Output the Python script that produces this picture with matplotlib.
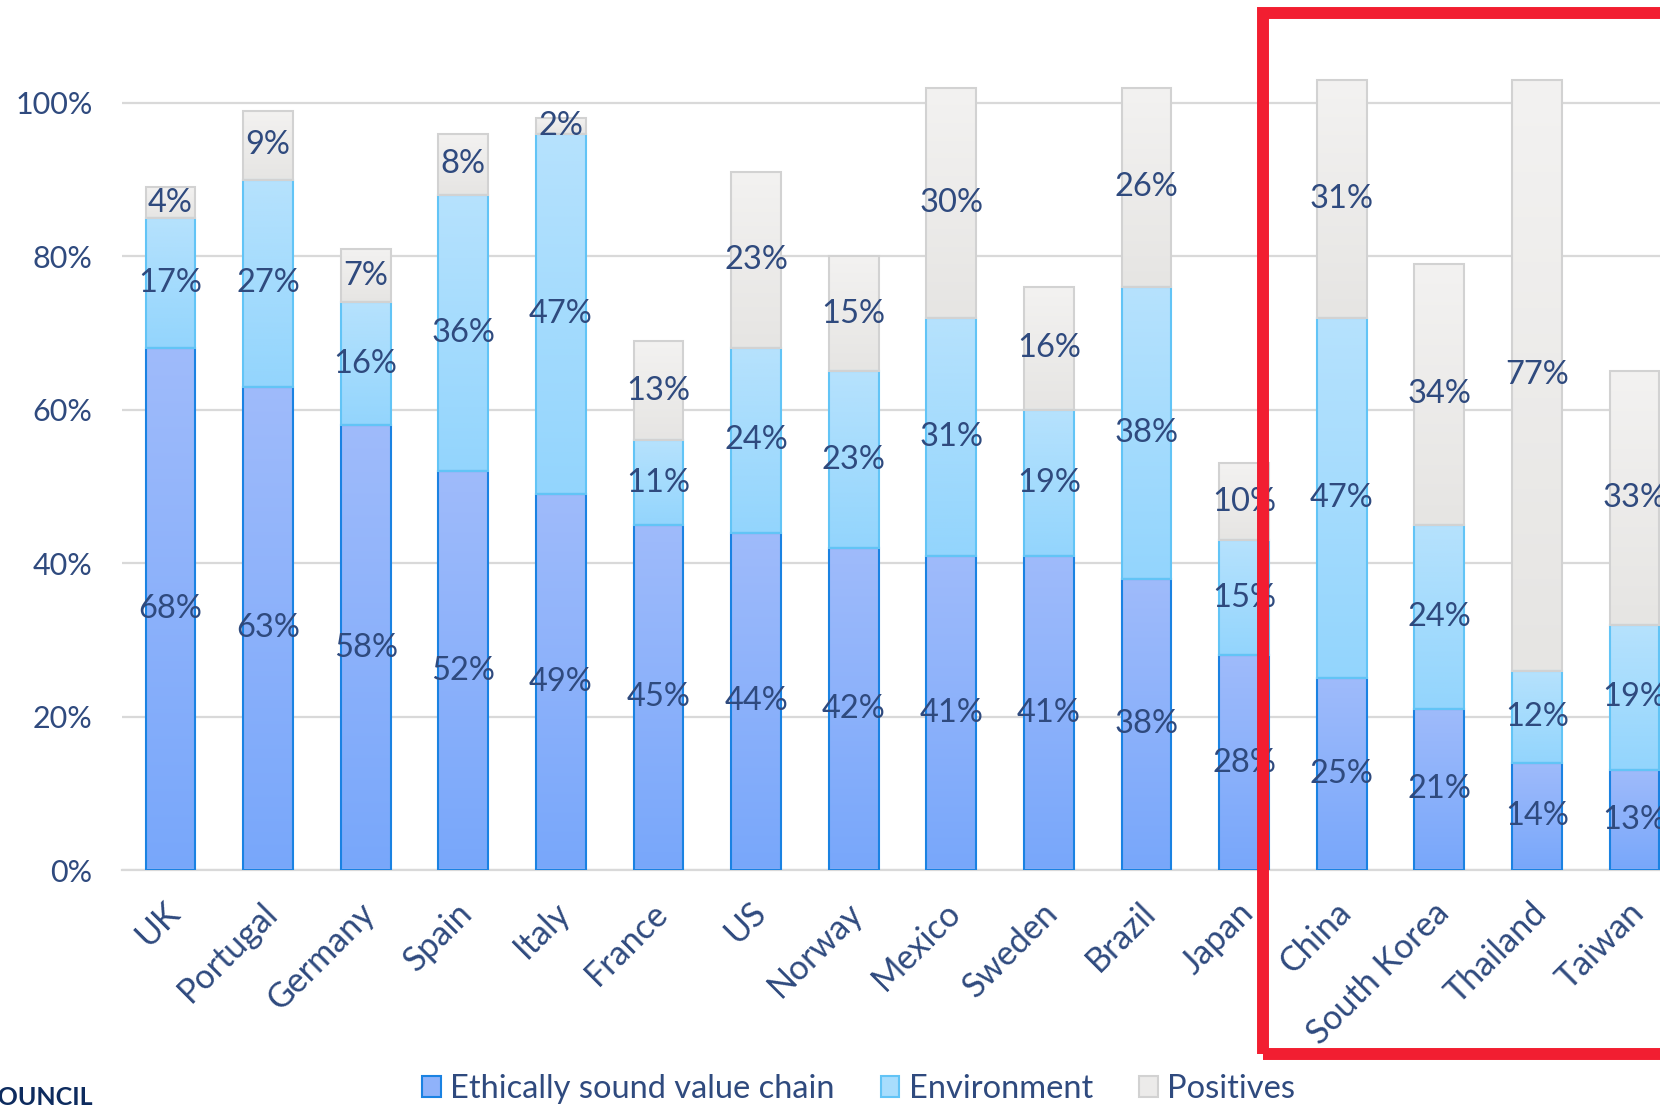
import numpy as np
import matplotlib
matplotlib.use("Agg")
import matplotlib.pyplot as plt
from matplotlib.colors import LinearSegmentedColormap
from matplotlib.patches import Patch, Rectangle
from matplotlib.transforms import ScaledTranslation

countries = ["UK", "Portugal", "Germany", "Spain", "Italy", "France", "US", "Norway",
             "Mexico", "Sweden", "Brazil", "Japan", "China", "South Korea", "Thailand", "Taiwan"]
ethical = [68, 63, 58, 52, 49, 45, 44, 42, 41, 41, 38, 28, 25, 21, 14, 13]
environment = [17, 27, 16, 36, 47, 11, 24, 23, 31, 19, 38, 15, 47, 24, 12, 19]
positives = [4, 9, 7, 8, 2, 13, 23, 15, 30, 16, 26, 10, 31, 34, 77, 33]
series_names = ["Ethically sound value chain", "Environment", "Positives"]

TXT = "#2f4a7e"
plt.rcParams['font.family'] = ['Lato', 'DejaVu Sans']

# (bottom colour, top colour, edge colour) for each series
styles = [
    ("#78a7fa", "#9fbbfb", "#1a82e2"),
    ("#93d5fd", "#b6e2fd", "#62c4f6"),
    ("#e6e5e3", "#f3f2f1", "#d2d2d2"),
]

fig = plt.figure(figsize=(16.6, 11.06), dpi=100)
ax = fig.add_axes([121.7 / 1660, 236 / 1106, 1 - 121.7 / 1660, 1.12 * 767 / 1106])

x = np.arange(len(countries))
grad = np.linspace(0, 1, 256).reshape(-1, 1)
bottom = np.zeros(len(countries))
for vals, (c0, c1, ec) in zip([ethical, environment, positives], styles):
    v = np.array(vals) / 100
    bars = ax.bar(x, v, width=0.51, bottom=bottom, facecolor="none",
                  edgecolor=ec, linewidth=1.5, zorder=3)
    cmap = LinearSegmentedColormap.from_list("g", [c0, c1])
    for b in bars:
        bx, by = b.get_x(), b.get_y()
        im = ax.imshow(grad, cmap=cmap, origin="lower", aspect="auto", zorder=2,
                       extent=(bx, bx + b.get_width(), by, by + b.get_height()))
        im.set_clip_path(b)
    for xi, bi, vi in zip(x, bottom, v):
        ax.text(xi, bi + vi / 2, f"{round(vi * 100)}%", ha="center", va="center",
                fontsize=23.5, color=TXT, zorder=5)
    bottom = bottom + v

ax.set_xlim(-0.5, -0.5 + (1660 - 121.7) / 97.6)
ax.set_ylim(0, 1.12)
ax.set_yticks(np.arange(0, 1.01, 0.2))
ax.set_yticklabels([f"{t}%" for t in range(0, 101, 20)])
ax.yaxis.grid(True, color="#d9d9d9", linewidth=1.6, zorder=0)
ax.set_axisbelow(True)
for s in ["top", "right", "left"]:
    ax.spines[s].set_visible(False)
ax.spines["bottom"].set_color("#d9d9d9")
ax.spines["bottom"].set_linewidth(1.6)
ax.tick_params(axis="y", length=0, pad=21, labelsize=22, labelcolor=TXT)
ax.tick_params(axis="x", length=0, pad=19, labelsize=24.5, labelcolor=TXT)
ax.set_xticks(x)
ax.set_xticklabels(countries, rotation=45, ha="right", va="top", rotation_mode="anchor")
shift = ScaledTranslation(-0.07, 0, fig.dpi_scale_trans)
for lbl in ax.get_xticklabels():
    lbl.set_transform(lbl.get_transform() + shift)

handles = [Patch(facecolor=fc, edgecolor=st[2], linewidth=1.5)
           for fc, st in zip(["#8fb2fa", "#a8ddfd", "#ecebea"], styles)]
fig.legend(handles, series_names, loc="center left", bbox_to_anchor=(422 / 1660, 17 / 1106),
           ncol=3, frameon=False, fontsize=23.5, labelcolor=TXT, handlelength=0.57,
           handleheight=0.57, handletextpad=0.3, columnspacing=1.4, borderpad=0,
           borderaxespad=0)

fig.text(93 / 1660, 1 / 1106, "COUNCIL", ha="right", va="baseline", fontsize=18,
         fontweight="bold", color="#0d2b5e")

# highlight box around the Asian markets
fig.patches.append(Rectangle((1263 / 1660, 52 / 1106), 0.4, 1041 / 1106,
                             transform=fig.transFigure, fill=False,
                             edgecolor="#f21e31", linewidth=8.6, zorder=10))

fig.savefig("out.png", dpi=100)
